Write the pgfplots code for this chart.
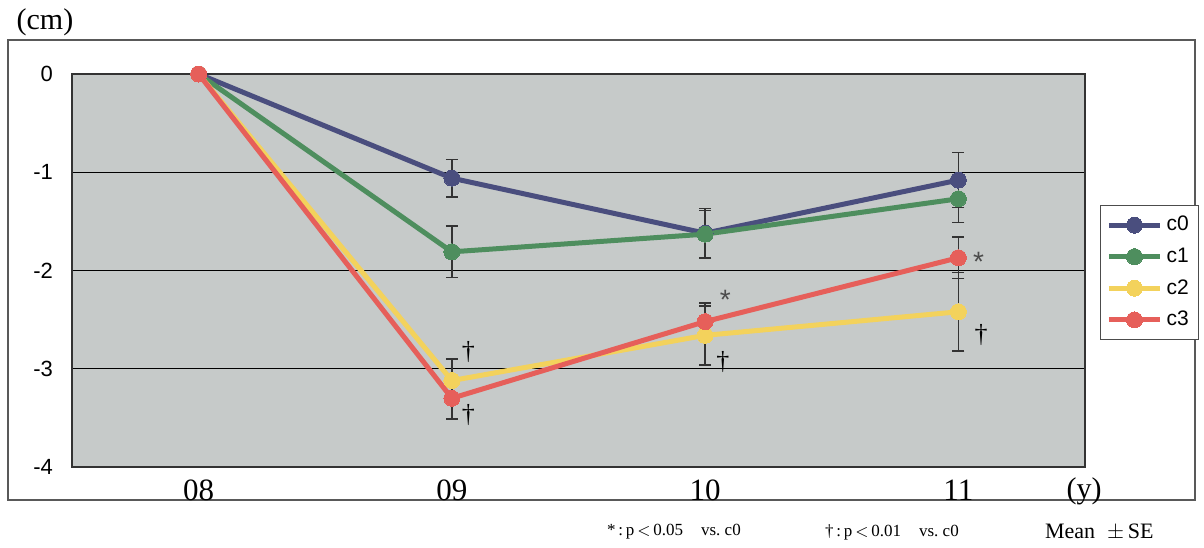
\documentclass[border=0pt]{standalone}
\usepackage{pgfplots}
\pgfplotsset{compat=1.18}
\usepackage{fontspec}
\setmainfont{Liberation Serif}
\newfontfamily\arial{Liberation Sans}
\definecolor{cA}{HTML}{4A4E7E}
\definecolor{cB}{HTML}{4E8E5E}
\definecolor{cC}{HTML}{F3D25C}
\definecolor{cD}{HTML}{E65F5A}
\definecolor{bg}{HTML}{C6CAC9}
\begin{document}
\begin{tikzpicture}
\begin{scope}[x=0.5pt,y=-0.5pt]
\path[use as bounding box,fill=white] (0,0) rectangle (1204,547);
\draw[gray!70!black,line width=0.6pt] (8,40) rectangle (1195,500);
\node[font=\fontsize{15}{16}\selectfont] at (45,22) {(cm)};
\node[font=\fontsize{15}{16}\selectfont] at (1084,491) {(y)};
\node[font=\fontsize{8.5}{10}\selectfont,anchor=west] at (600,532) {*\,:\,p\,$<$\,0.05\hspace{9pt}vs.\ c0};
\node[font=\fontsize{8.5}{10}\selectfont,anchor=west] at (818,532) {\textdagger\,:\,p\,$<$\,0.01\hspace{9pt}vs.\ c0};
\node[font=\fontsize{11}{12}\selectfont,anchor=west] at (1038,532) {Mean\hspace{6pt}$\pm$\,SE};
\end{scope}
\begin{axis}[
  at={(36pt,-233.5pt)}, anchor=south west,
  scale only axis, width=506.5pt, height=196.5pt,
  xmin=-0.5, xmax=3.5, ymin=-4, ymax=0,
  xtick={0,1,2,3}, xticklabels={08,09,10,11},
  ytick={0,-1,-2,-3,-4},
  yticklabels={0,-1,-2,-3,-4},
  major tick length=0pt,
  xticklabel style={font=\fontsize{15.5}{16}\selectfont, yshift=-3pt},
  yticklabel style={font=\arial\fontsize{11}{12}\selectfont, xshift=-6pt},
  axis background/.style={fill=bg},
  axis line style={gray!40!black, line width=0.6pt},
  ymajorgrids, grid style={black, line width=0.5pt},
  clip=false,
  legend style={at={(1.0148,0.667)}, anchor=north west, draw=gray!60!black,
    font=\arial\fontsize{10.5}{11}\selectfont, row sep=3pt, inner xsep=3pt, inner ysep=3.5pt,
    cells={anchor=west}, fill=white},
  legend image code/.code={
    \draw[#1, mark repeat=2, mark phase=2] plot coordinates {(0cm,0cm) (0.45cm,0cm) (0.9cm,0cm)};},
  every axis plot/.append style={line width=2.5pt, mark=*, mark size=4pt,
    error bars/error bar style={black!80, line width=0.8pt},
    error bars/error mark options={rotate=90, mark size=3pt, line width=0.8pt, black!80}},
]
\addplot[color=cA, mark options={fill=cA, line width=0pt}, error bars/.cd, y dir=both, y explicit]
  coordinates {(0,0) +- (0,0) (1,-1.06) +- (0,0.19) (2,-1.62) +- (0,0.25) (3,-1.08) +- (0,0.28)};
\addlegendentry{c0}
\addplot[color=cB, mark options={fill=cB, line width=0pt}, error bars/.cd, y dir=both, y explicit]
  coordinates {(0,0) +- (0,0) (1,-1.81) +- (0,0.26) (2,-1.63) +- (0,0.24) (3,-1.27) +- (0,0.24)};
\addlegendentry{c1}
\addplot[color=cC, mark options={fill=cC, line width=0pt}, error bars/.cd, y dir=both, y explicit]
  coordinates {(0,0) +- (0,0) (1,-3.12) +- (0,0.22) (2,-2.66) +- (0,0.30) (3,-2.42) +- (0,0.40)};
\addlegendentry{c2}
\addplot[color=cD, mark options={fill=cD, line width=0pt}, error bars/.cd, y dir=both, y explicit]
  coordinates {(0,0) +- (0,0) (1,-3.30) +- (0,0.21) (2,-2.52) +- (0,0.19) (3,-1.87) +- (0,0.21)};
\addlegendentry{c3}
\node[font=\fontsize{13}{14}\selectfont] at (axis cs:1.065,-2.83) {\textdagger};
\node[font=\fontsize{13}{14}\selectfont] at (axis cs:1.065,-3.47) {\textdagger};
\node[font=\arial\fontsize{14}{15}\selectfont, black!70] at (axis cs:2.08,-2.30) {*};
\node[font=\fontsize{13}{14}\selectfont] at (axis cs:2.07,-2.93) {\textdagger};
\node[font=\arial\fontsize{14}{15}\selectfont, black!70] at (axis cs:3.08,-1.91) {*};
\node[font=\fontsize{13}{14}\selectfont] at (axis cs:3.09,-2.66) {\textdagger};
\end{axis}
\end{tikzpicture}
\end{document}
